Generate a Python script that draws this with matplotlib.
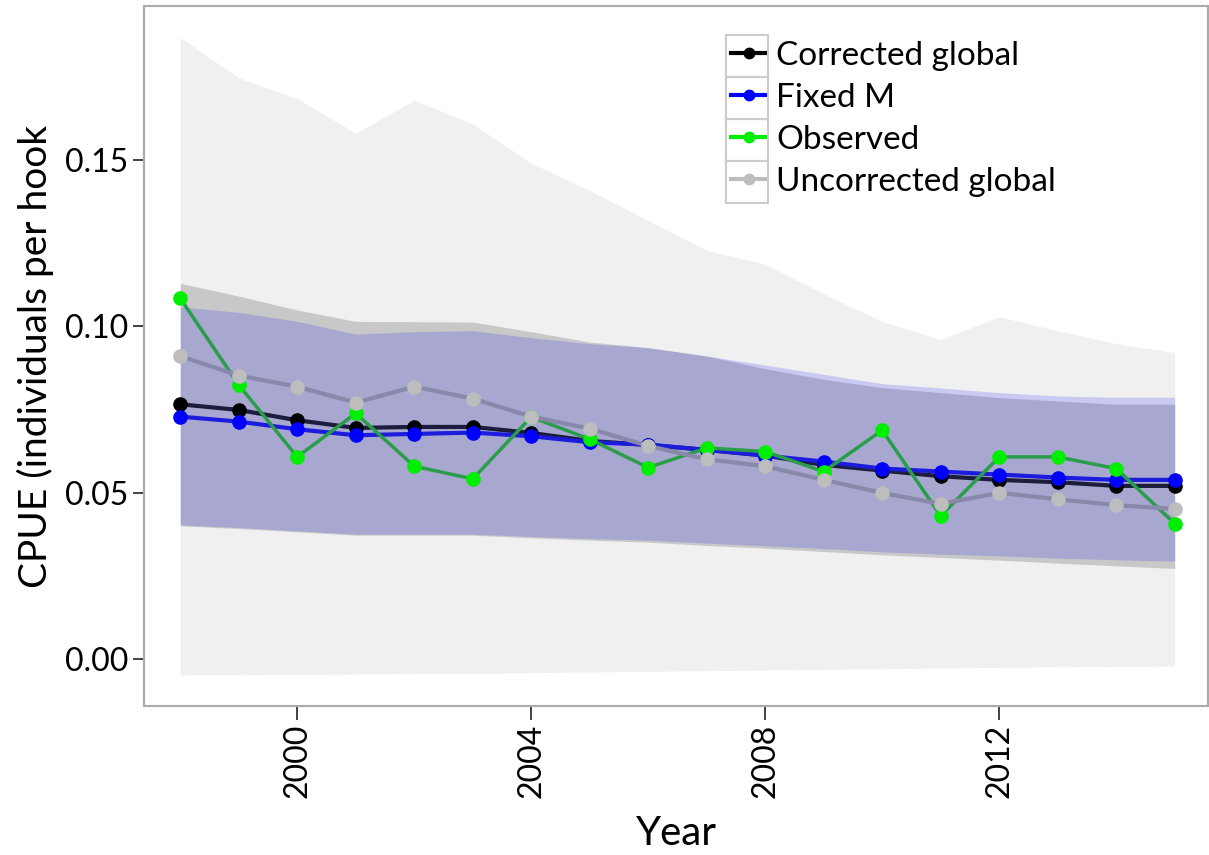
import matplotlib
matplotlib.use("Agg")
import matplotlib.pyplot as plt
from matplotlib.lines import Line2D
from matplotlib.patches import Rectangle

plt.rcParams['font.family'] = ['Lato', 'DejaVu Sans']

years = list(range(1998, 2016))

corrected = [0.0765, 0.0748, 0.0717, 0.0694, 0.0697, 0.0697, 0.0679, 0.0655, 0.0643,
             0.0628, 0.0611, 0.0583, 0.0566, 0.0549, 0.0538, 0.0531, 0.0520, 0.0520]
fixed_m = [0.0728, 0.0713, 0.0690, 0.0672, 0.0676, 0.0680, 0.0669, 0.0651, 0.0644,
           0.0628, 0.0611, 0.0593, 0.0572, 0.0563, 0.0554, 0.0545, 0.0538, 0.0538]
observed = [0.1083, 0.0823, 0.0607, 0.0738, 0.0579, 0.0541, 0.0727, 0.0660, 0.0575,
            0.0634, 0.0623, 0.0563, 0.0687, 0.0430, 0.0607, 0.0607, 0.0572, 0.0407]
uncorrected = [0.0910, 0.0851, 0.0818, 0.0770, 0.0818, 0.0782, 0.0728, 0.0692, 0.0640,
               0.0600, 0.0579, 0.0538, 0.0499, 0.0466, 0.0499, 0.0480, 0.0462, 0.0451]

# uncertainty bands
uncorr_hi = [0.1866, 0.1745, 0.1683, 0.1579, 0.1678, 0.1607, 0.1489, 0.1407, 0.1317,
             0.1227, 0.1186, 0.1096, 0.1014, 0.0959, 0.1028, 0.0986, 0.0947, 0.0920]
uncorr_lo = [-0.0048, -0.0047, -0.0046, -0.0045, -0.0044, -0.0043, -0.0041, -0.0039, -0.0037,
             -0.0035, -0.0033, -0.0031, -0.0029, -0.0027, -0.0025, -0.0023, -0.0022, -0.0021]
corr_hi = [0.1128, 0.1090, 0.1048, 0.1014, 0.1013, 0.1012, 0.0983, 0.0952, 0.0935,
           0.0910, 0.0872, 0.0840, 0.0815, 0.0800, 0.0785, 0.0775, 0.0765, 0.0765]
corr_lo = [0.0400, 0.0392, 0.0382, 0.0372, 0.0372, 0.0372, 0.0364, 0.0357, 0.0351,
           0.0341, 0.0333, 0.0323, 0.0313, 0.0305, 0.0297, 0.0288, 0.0280, 0.0272]
fixed_hi = [0.1058, 0.1041, 0.1014, 0.0976, 0.0983, 0.0986, 0.0965, 0.0947, 0.0935,
            0.0910, 0.0883, 0.0855, 0.0827, 0.0814, 0.0800, 0.0790, 0.0786, 0.0786]
fixed_lo = [0.0403, 0.0395, 0.0385, 0.0375, 0.0375, 0.0375, 0.0368, 0.0362, 0.0357,
            0.0348, 0.0340, 0.0332, 0.0322, 0.0315, 0.0310, 0.0303, 0.0298, 0.0294]

labels = ["Corrected global", "Fixed M", "Observed", "Uncorrected global"]
xticks = [2000, 2004, 2008, 2012]
yticks = [0.00, 0.05, 0.10, 0.15]

W, H = 1209, 855
fig = plt.figure(figsize=(W / 100, H / 100), dpi=100)
ax = fig.add_axes([144 / W, (H - 706) / H, 1064 / W, 700 / H])

ax.fill_between(years, uncorr_lo, uncorr_hi, color="#f0f0f0", lw=0)
ax.fill_between(years, corr_lo, corr_hi, color="#c8c8c8", lw=0)
ax.fill_between(years, fixed_lo, fixed_hi, color="blue", alpha=0.16, lw=0)

ms = 9.5
ax.plot(years, corrected, color="#1c1c3c", lw=3, marker="o", ms=ms, mfc="black", mec="black")
ax.plot(years, fixed_m, color="#1c1cdc", lw=3, marker="o", ms=ms, mfc="blue", mec="blue")
ax.plot(years, observed, color="#2a9d4a", lw=2.5, marker="o", ms=ms, mfc="#00ee00", mec="#00ee00")
ax.plot(years, uncorrected, color="#8888aa", lw=3, marker="o", ms=ms, mfc="#bdbdbd", mec="#bdbdbd")

ax.set_xlim(1997.38, 2015.57)
ax.set_ylim(-0.0141, 0.1961)
ax.set_xticks(xticks)
ax.set_xticklabels([str(y) for y in xticks], rotation=90, fontsize=23)
ax.set_yticks(yticks)
ax.set_yticklabels(["%.2f" % v for v in yticks], fontsize=23)
ax.tick_params(axis="both", length=8, width=1.3, color="#333333")
ax.tick_params(axis="x", length=10, pad=3)
for s in ax.spines.values():
    s.set_color("#aaaaaa")
    s.set_linewidth(1.5)

ax.set_xlabel("Year", fontsize=29, labelpad=12)
ax.set_ylabel("CPUE (individuals per hook", fontsize=28, labelpad=8)

handles = [
    Line2D([], [], color="black", lw=3, marker="o", ms=7.5),
    Line2D([], [], color="blue", lw=3, marker="o", ms=7.5),
    Line2D([], [], color="#00ee00", lw=3, marker="o", ms=7.5),
    Line2D([], [], color="#bdbdbd", lw=3, marker="o", ms=7.5),
]
leg = ax.legend(handles, labels, loc="upper left",
                bbox_to_anchor=((731 - 144) / 1064, (706 - 41) / 700),
                frameon=False, fontsize=24, handlelength=1.05, handletextpad=0.3,
                labelspacing=0.36, borderpad=0, borderaxespad=0)

# grey boxes round each legend key
fig.canvas.draw()
row_h = 42.5
for i, txt in enumerate(leg.get_texts()):
    bb = txt.get_window_extent()
    cy = (bb.y0 + bb.y1) / 2
    fig.patches.append(Rectangle((726, cy - row_h / 2), 42, row_h, transform=None,
                                 fill=False, ec="#cccccc", lw=1.5))

fig.savefig("out.png", dpi=100)
